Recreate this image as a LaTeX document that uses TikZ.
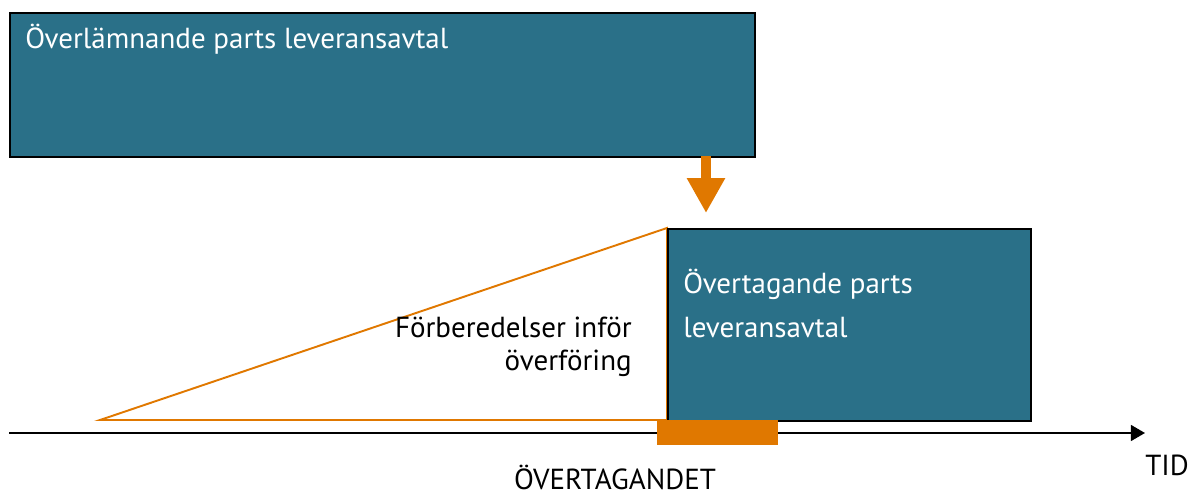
\documentclass[tikz,border=0pt]{standalone}
\usepackage{fontspec}
\setmainfont{PT Sans}
\usetikzlibrary{arrows.meta}
\definecolor{teal}{HTML}{2A7088}
\definecolor{orng}{HTML}{E07800}
\tikzset{
  box/.style={draw=black, line width=1.2pt, fill=teal, anchor=north west, inner sep=0pt},
  wtext/.style={text=white, font=\fontsize{16.5}{25}\selectfont, anchor=base west, inner sep=0pt, align=left},
  btext/.style={text=black, font=\fontsize{16.5}{18.5}\selectfont, inner sep=0pt},
  tri/.style={draw=orng, line width=1.1pt, line join=miter},
  bigarrow/.style={draw=orng, line width=6.2pt, -{Triangle[length=19.8pt, width=20.4pt]}},
  axis/.style={draw=black, line width=1.1pt, -{Triangle[length=8pt, width=9pt]}},
  bar/.style={fill=orng, anchor=north west, inner sep=0pt, minimum width=2.42cm, minimum height=0.5cm}
}
\begin{document}
\begin{tikzpicture}[x=0.02cm, y=-0.02cm]
\useasboundingbox (0,0) rectangle (1201,497);
% triangle
\coordinate (t1) at (100,420);
\coordinate (t2) at (667,228);
\coordinate (t3) at (667,420);
\draw[tri] (t1) -- (t2) -- (t3) -- cycle;
% boxes
\node[box, minimum width=14.9cm, minimum height=2.88cm] (top) at (9,12) {};
\node[box, minimum width=7.26cm, minimum height=3.84cm] (bot) at (667,228) {};
\node[wtext] (toptext) at (25,49) {Överlämnande parts leveransavtal};
\node[wtext] (bottext) at (683,337) {Övertagande parts\\leveransavtal};
% big arrow
\coordinate (as) at (706,156);
\coordinate (ae) at (706,213);
\draw[bigarrow] (as) -- (ae);
% axis
\coordinate (axL) at (9,433);
\coordinate (axR) at (1145,433);
\draw[axis] (axL) -- (axR);
% bar
\node[bar] (ovt) at (657,420) {};
% labels
\node[btext, align=right, anchor=base east] (prep) at (632,370) {Förberedelser inför\\överföring};
\node[btext, anchor=base] (tid) at (1167,475) {TID};
\node[btext, anchor=base] (ovtl) at (615,489) {ÖVERTAGANDET};
\end{tikzpicture}
\end{document}
